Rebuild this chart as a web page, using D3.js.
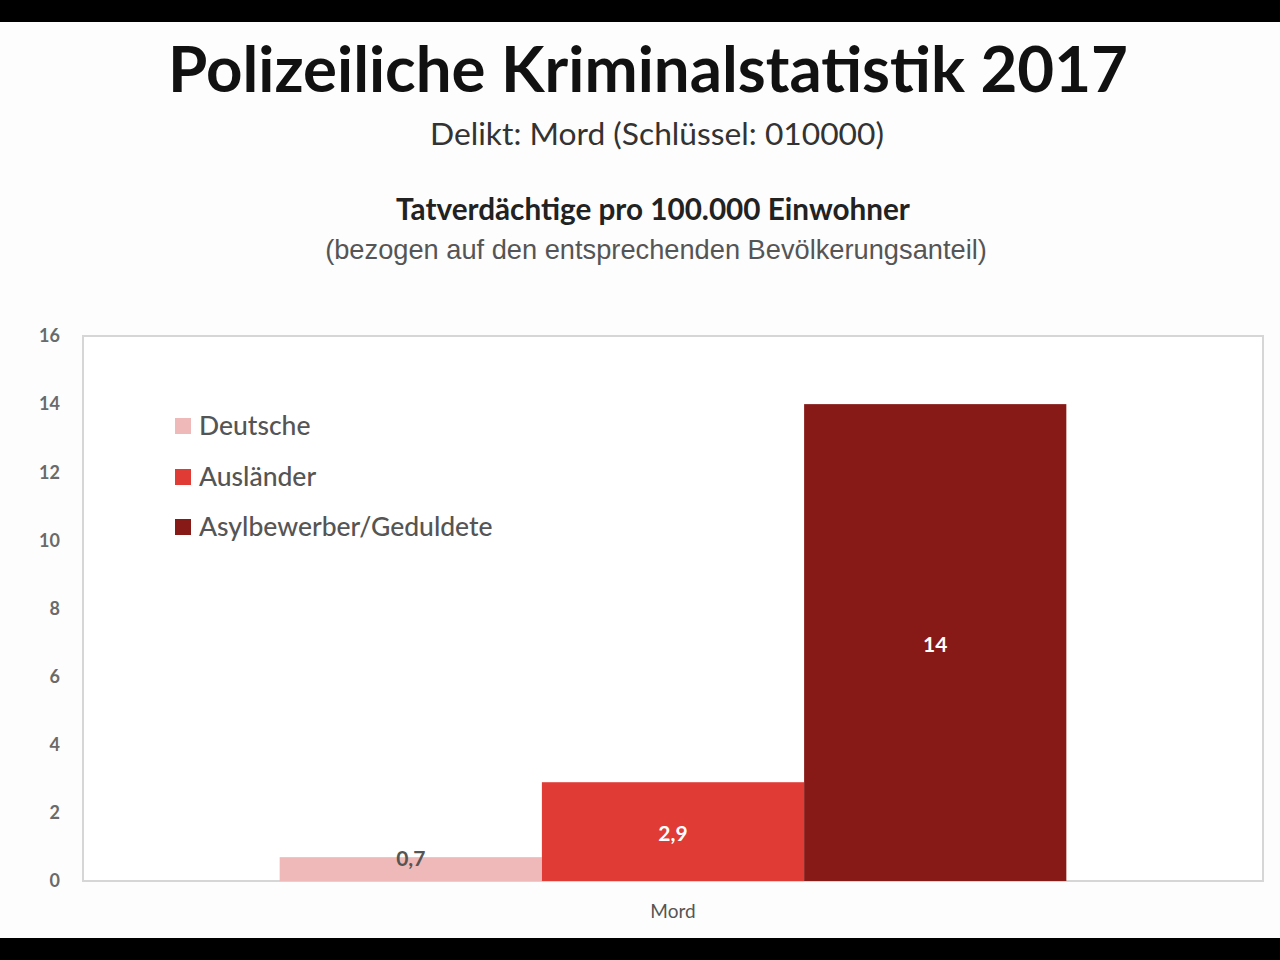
<!DOCTYPE html>
<html><head><meta charset="utf-8">
<script src="https://cdn.jsdelivr.net/npm/d3@7"></script>
<style>html,body{margin:0;padding:0;background:#000;}svg{display:block;}</style>
</head><body>
<svg id="chart" width="1280" height="960"></svg>
<script>
const categories = ["Mord"];
const seriesNames = ["Deutsche", "Ausländer", "Asylbewerber/Geduldete"];
const seriesValues = [0.7, 2.9, 14];
const valueLabels = ["0,7", "2,9", "14"];
const yTicks = [0, 2, 4, 6, 8, 10, 12, 14, 16];
const colors = ["#f0b9b9", "#e13b36", "#871a17"];
const labelColors = ["#555555", "#ffffff", "#ffffff"];

const svg = d3.select("#chart");
svg.append("rect").attr("x",0).attr("y",0).attr("width",1280).attr("height",960).attr("fill","#000");
svg.append("rect").attr("x",0).attr("y",22).attr("width",1280).attr("height",916).attr("fill","#fdfdfd");

function fitText(sel, targetW){
  const w = sel.node().getComputedTextLength();
  const fs = parseFloat(sel.attr("font-size"));
  sel.attr("font-size", fs*targetW/w);
}

const t1 = svg.append("text").attr("x",648).attr("y",92).attr("text-anchor","middle")
  .attr("font-family","Lato, 'Open Sans', sans-serif").attr("font-weight","bold").attr("font-size",54)
  .attr("fill","#111").text("Polizeiliche Kriminalstatistik 2017");
fitText(t1, 960);
const t2 = svg.append("text").attr("x",657).attr("y",145).attr("text-anchor","middle")
  .attr("font-family","Lato, 'Open Sans', sans-serif").attr("font-size",26)
  .attr("fill","#333").text("Delikt: Mord (Schlüssel: 010000)");
fitText(t2, 454);
const t3 = svg.append("text").attr("x",653).attr("y",220).attr("text-anchor","middle")
  .attr("font-family","Lato, 'Open Sans', sans-serif").attr("font-weight","bold").attr("font-size",22)
  .attr("fill","#222").text("Tatverdächtige pro 100.000 Einwohner");
fitText(t3, 514);
const t4 = svg.append("text").attr("x",656).attr("y",259).attr("text-anchor","middle")
  .attr("font-family","'Liberation Sans', Arial, sans-serif").attr("font-size",22)
  .attr("fill","#555").text("(bezogen auf den entsprechenden Bevölkerungsanteil)");
fitText(t4, 662);

const plotL = 83, plotR = 1263, plotT = 336, plotB = 881;
const y = d3.scaleLinear().domain([0,16]).range([plotB, plotT]);
const x0 = d3.scaleBand().domain(categories).range([plotL, plotR]).paddingInner(0.2).paddingOuter(0.2);
const x1 = d3.scaleBand().domain(seriesNames).range([0, x0.bandwidth()]).padding(0);

// plot frame
svg.append("rect").attr("x",plotL).attr("y",plotT).attr("width",plotR-plotL).attr("height",plotB-plotT)
  .attr("fill","#ffffff").attr("stroke","#d6d6d6").attr("stroke-width",2);

// y axis
const yAxis = d3.axisLeft(y).tickValues(yTicks).tickSize(0).tickPadding(23).tickFormat(d3.format("d"));
const ga = svg.append("g").attr("transform",`translate(${plotL},0)`).call(yAxis);
ga.select(".domain").remove();
ga.selectAll("text").attr("font-family","Lato, 'Open Sans', sans-serif").attr("font-size",18)
  .attr("font-weight","bold").attr("fill","#6a6a6a");

// x axis
const xAxis = d3.axisBottom(x0).tickSize(0).tickPadding(24);
const gx = svg.append("g").attr("transform",`translate(0,${plotB})`).call(xAxis);
gx.select(".domain").remove();
gx.selectAll("text").attr("font-family","Lato, 'Open Sans', sans-serif").attr("font-size",19)
  .attr("fill","#555");

// bars
const g = svg.append("g").attr("transform",`translate(${x0("Mord")},0)`);
g.selectAll("rect.bar").data(seriesNames).join("rect").attr("class","bar")
  .attr("x", d => x1(d)).attr("width", x1.bandwidth())
  .attr("y", (d,i) => y(seriesValues[i])).attr("height", (d,i) => plotB - y(seriesValues[i]))
  .attr("fill", (d,i) => colors[i]);

// value labels
g.selectAll("text.val").data(seriesNames).join("text").attr("class","val")
  .attr("x", d => x1(d) + x1.bandwidth()/2)
  .attr("y", (d,i) => {
    const h = plotB - y(seriesValues[i]);
    const c = y(seriesValues[i]) + h/2;
    return (h < 40 ? y(seriesValues[i]) + 1 : c + 2);
  })
  .attr("dy","0.35em").attr("text-anchor","middle")
  .attr("font-family","Lato, 'Open Sans', sans-serif").attr("font-weight","bold").attr("font-size",21)
  .attr("fill", (d,i) => labelColors[i]).text((d,i) => valueLabels[i]);

// legend
const leg = svg.append("g");
const legY = [426, 477, 527];
seriesNames.forEach((n,i) => {
  leg.append("rect").attr("x",175).attr("y",legY[i]-8).attr("width",16).attr("height",16).attr("fill",colors[i]);
  leg.append("text").attr("x",199).attr("y",legY[i]).attr("dy","0.35em")
    .attr("font-family","Lato, 'Open Sans', sans-serif").attr("font-size",26.5).attr("font-weight",500)
    .attr("fill","#555").text(n);
});
</script>
</body></html>
